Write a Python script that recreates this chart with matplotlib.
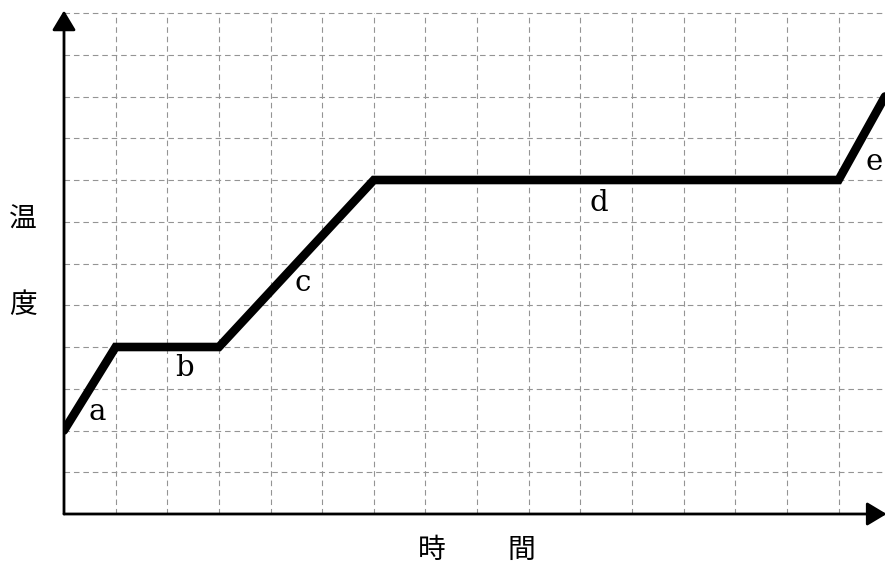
import matplotlib
matplotlib.use("Agg")
import matplotlib.pyplot as plt

# data (grid units)
time_pts = [0, 1, 3, 6, 15, 15.9]
temp_pts = [2, 4, 4, 8, 8, 10]
phase_labels = ["a", "b", "c", "d", "e"]
label_x = [0.64, 2.33, 4.63, 10.35, 15.68]
label_y = [2.45, 3.5, 5.54, 7.46, 8.44]
ylabel_chars = ["温", "度"]
xlabel_chars = ["時", "間"]

W, H = 885, 567
fig = plt.figure(figsize=(W / 100, H / 100), dpi=100)
left, right, top, bottom = 64, 885, 13, 514
ax = fig.add_axes([left / W, (H - bottom) / H, (right - left) / W, (bottom - top) / H])

xmax, ymax = 15.9, 12
ax.set_xlim(0, xmax)
ax.set_ylim(0, ymax)

# grid
for xv in range(1, 16):
    ax.axvline(xv, color="#949494", lw=0.8, dashes=(5, 3.5), zorder=1)
for yv in range(1, 13):
    ax.axhline(yv, color="#949494", lw=0.8, dashes=(5, 3.5), zorder=1, clip_on=False)

for s in ax.spines.values():
    s.set_visible(False)
ax.set_xticks([])
ax.set_yticks([])

# axes with arrows
arrow_style = "-|>,head_length=0.5,head_width=0.3"
ax.annotate("", xy=(0, 1.005), xytext=(0, 0), xycoords="axes fraction",
            arrowprops=dict(arrowstyle=arrow_style, lw=2,
                            color="black", mutation_scale=24, shrinkA=0, shrinkB=0),
            annotation_clip=False)
ax.annotate("", xy=(1.002, 0), xytext=(0, 0), xycoords="axes fraction",
            arrowprops=dict(arrowstyle=arrow_style, lw=2,
                            color="black", mutation_scale=24, shrinkA=0, shrinkB=0),
            annotation_clip=False)

# main line
ax.plot(time_pts, temp_pts, color="black", lw=6.2, solid_capstyle="round",
        solid_joinstyle="miter", zorder=5, clip_on=True)

for t, x, y in zip(phase_labels, label_x, label_y):
    ax.text(x, y, t, fontsize=21, family="DejaVu Serif", ha="center", va="center", zorder=6)

cjk = ["Noto Sans CJK JP", "DejaVu Sans"]
for ch, py in zip(ylabel_chars, [220, 305]):
    fig.text(23 / W, 1 - py / H, ch, fontsize=20, family=cjk, ha="center", va="center")
for ch, px in zip(xlabel_chars, [432, 521]):
    fig.text(px / W, 1 - 550 / H, ch, fontsize=20, family=cjk, ha="center", va="center")

fig.savefig("out.png", dpi=100)
